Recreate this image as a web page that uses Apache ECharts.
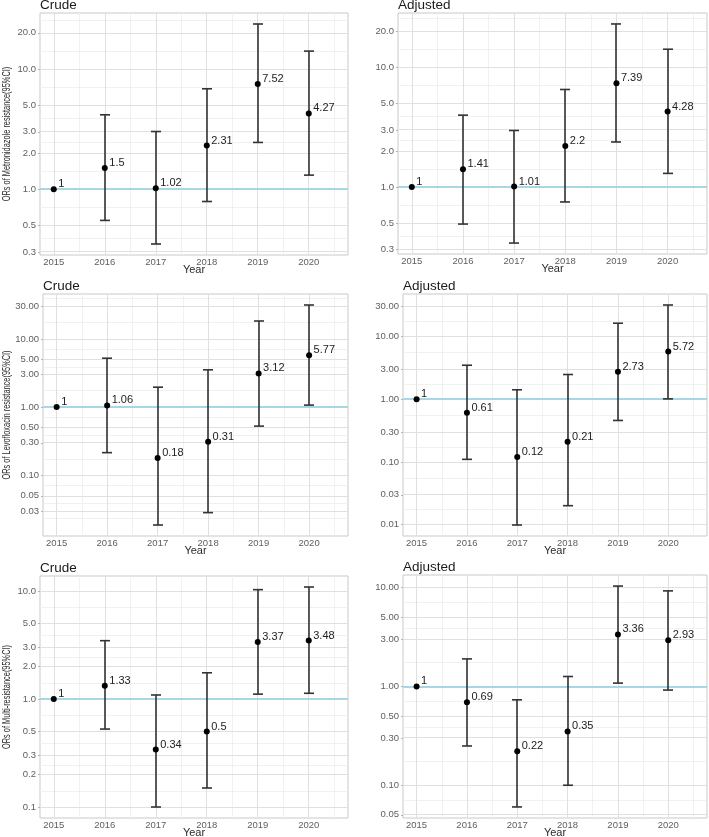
<!DOCTYPE html>
<html>
<head>
<meta charset="utf-8">
<script src="https://cdn.jsdelivr.net/npm/echarts@6/dist/echarts.min.js"></script>
<style>
html,body{margin:0;padding:0;background:#fff;}
#chart{width:709px;height:837px;}
</style>
</head>
<body>
<div id="chart"></div>
<script>
// ---------- data ----------
var years = [2015, 2016, 2017, 2018, 2019, 2020];

var metroCrudeOR   = [1, 1.5, 1.02, 2.31, 7.52, 4.27];
var metroCrudeLow  = [null, 0.55, 0.35, 0.79, 2.45, 1.31];
var metroCrudeHigh = [null, 4.16, 3.02, 6.85, 23.7, 14.1];

var metroAdjOR   = [1, 1.41, 1.01, 2.2, 7.39, 4.28];
var metroAdjLow  = [null, 0.49, 0.34, 0.75, 2.38, 1.30];
var metroAdjHigh = [null, 3.99, 2.97, 6.54, 23.1, 14.2];

var levoCrudeOR   = [1, 1.06, 0.18, 0.31, 3.12, 5.77];
var levoCrudeLow  = [null, 0.215, 0.0187, 0.0284, 0.527, 1.07];
var levoCrudeHigh = [null, 5.21, 1.96, 3.52, 18.3, 31.4];

var levoAdjOR   = [1, 0.61, 0.12, 0.21, 2.73, 5.72];
var levoAdjLow  = [null, 0.11, 0.0099, 0.0201, 0.458, 1.01];
var levoAdjHigh = [null, 3.47, 1.41, 2.47, 16.2, 31.6];

var multiCrudeOR   = [1, 1.33, 0.34, 0.5, 3.37, 3.48];
var multiCrudeLow  = [null, 0.527, 0.10, 0.15, 1.11, 1.13];
var multiCrudeHigh = [null, 3.47, 1.09, 1.75, 10.3, 10.9];

var multiAdjOR   = [1, 0.69, 0.22, 0.35, 3.36, 2.93];
var multiAdjLow  = [null, 0.249, 0.060, 0.0996, 1.08, 0.918];
var multiAdjHigh = [null, 1.90, 0.731, 1.26, 10.4, 9.29];

// tick labels
var metroTicks      = [0.3, 0.5, 1, 2, 3, 5, 10, 20];
var levoCrudeTicks  = [0.03, 0.05, 0.1, 0.3, 0.5, 1, 3, 5, 10, 30];
var levoAdjTicks    = [0.01, 0.03, 0.1, 0.3, 1, 3, 10, 30];
var multiCrudeTicks = [0.1, 0.2, 0.3, 0.5, 1, 2, 3, 5, 10];
var multiAdjTicks   = [0.05, 0.1, 0.3, 0.5, 1, 3, 5, 10];

var panelTitles = ['Crude', 'Adjusted'];
var yTitles = ['ORs of Metronidazole resistance(95%CI)',
               'ORs of Levofloxacin resistance(95%CI)',
               'ORs of Multi-resistance(95%CI)'];
var xTitle = 'Year';

// ---------- layout ----------
var layout = [
  {left: 40,  top: 13,  width: 308, height: 242},
  {left: 398, top: 13,  width: 309, height: 241},
  {left: 43,  top: 294, width: 305, height: 242},
  {left: 403, top: 294, width: 304, height: 242},
  {left: 40,  top: 576, width: 308, height: 242},
  {left: 403, top: 575, width: 304, height: 243}
];

var panels = [
  {or: metroCrudeOR, lo: metroCrudeLow, hi: metroCrudeHigh, ticks: metroTicks, dec: 1, title: panelTitles[0], yTitle: yTitles[0]},
  {or: metroAdjOR,   lo: metroAdjLow,   hi: metroAdjHigh,   ticks: metroTicks, dec: 1, title: panelTitles[1]},
  {or: levoCrudeOR,  lo: levoCrudeLow,  hi: levoCrudeHigh,  ticks: levoCrudeTicks, dec: 2, title: panelTitles[0], yTitle: yTitles[1]},
  {or: levoAdjOR,    lo: levoAdjLow,    hi: levoAdjHigh,    ticks: levoAdjTicks, dec: 2, title: panelTitles[1]},
  {or: multiCrudeOR, lo: multiCrudeLow, hi: multiCrudeHigh, ticks: multiCrudeTicks, dec: 1, title: panelTitles[0], yTitle: yTitles[2]},
  {or: multiAdjOR,   lo: multiAdjLow,   hi: multiAdjHigh,   ticks: multiAdjTicks, dec: 2, title: panelTitles[1]}
];

var X_MIN = 2014.73, X_MAX = 2020.77;
var FONT = 'Liberation Sans, Arial, sans-serif';
var lg = function (v) { return Math.log(v) / Math.LN10; };

var chart = echarts.init(document.getElementById('chart'), null, {renderer: 'canvas'});

var grids = [], xAxes = [], yAxes = [], series = [], graphics = [];

function errRender(params, api) {
  var x = api.value(0), lo = api.value(1), hi = api.value(2);
  var p1 = api.coord([x, lo]), p2 = api.coord([x, hi]);
  var cx = Math.round(p1[0]);
  var w = 5;
  var st = {stroke: '#333333', lineWidth: 1.6, opacity: 1};
  return {type: 'group', children: [
    {type: 'line', shape: {x1: cx, y1: p1[1], x2: cx, y2: p2[1]}, style: st},
    {type: 'line', shape: {x1: cx - w, y1: p1[1], x2: cx + w, y2: p1[1]}, style: st},
    {type: 'line', shape: {x1: cx - w, y1: p2[1], x2: cx + w, y2: p2[1]}, style: st}
  ]};
}

panels.forEach(function (p, i) {
  var L = layout[i];
  grids.push({left: L.left, top: L.top, width: L.width, height: L.height,
    show: true, borderColor: '#c9c9c9', borderWidth: 1, backgroundColor: '#fff', containLabel: false});

  // y-limits, ggplot-like 5% expansion in log space
  var all = [];
  p.or.forEach(function (v) { all.push(lg(v)); });
  p.lo.forEach(function (v) { if (v != null) all.push(lg(v)); });
  p.hi.forEach(function (v) { if (v != null) all.push(lg(v)); });
  var mn = Math.min.apply(null, all), mx = Math.max.apply(null, all);
  var ex = (mx - mn) * 0.05;
  var yMin = mn - ex, yMax = mx + ex;

  var tickLogs = p.ticks.map(lg);
  // minor breaks (midpoints, extended one step each side)
  var b = tickLogs.slice();
  var bd = b[1] - b[0];
  if (yMin < b[0]) b.unshift(b[0] - bd);
  if (yMax > b[b.length - 1]) b.push(b[b.length - 1] + bd);
  var minors = [];
  for (var k = 0; k < b.length - 1; k++) {
    var m = (b[k] + b[k + 1]) / 2;
    if (m > yMin && m < yMax) minors.push(m);
  }

  var dec = p.dec, ticks = p.ticks;
  xAxes.push({type: 'value', gridIndex: i, min: X_MIN, max: X_MAX,
    axisLine: {show: false}, splitLine: {show: false},
    axisTick: {show: true, customValues: years, length: 2, lineStyle: {color: '#b5b5b5'}},
    axisLabel: {show: true, customValues: years, margin: 2, fontSize: 9.5, color: '#5e5e5e', fontFamily: FONT,
      formatter: function (v) { return String(Math.round(v)); }}
  });
  yAxes.push({type: 'value', gridIndex: i, min: yMin, max: yMax,
    axisLine: {show: false}, splitLine: {show: false},
    axisTick: {show: true, customValues: tickLogs, length: 2, lineStyle: {color: '#b5b5b5'}},
    axisLabel: {show: true, customValues: tickLogs, margin: 4, fontSize: 9.5, color: '#5e5e5e', fontFamily: FONT,
      formatter: function (v) {
        var best = 0, bdist = Infinity;
        for (var j = 0; j < ticks.length; j++) {
          var d = Math.abs(lg(ticks[j]) - v);
          if (d < bdist) { bdist = d; best = j; }
        }
        return ticks[best].toFixed(dec);
      }}
  });

  // grid lines
  var gl = [];
  minors.forEach(function (v) { gl.push({yAxis: v, lineStyle: {color: '#eeeeee', width: 0.8, type: 'solid'}}); });
  years.forEach(function (y) { gl.push({xAxis: y - 0.5, lineStyle: {color: '#eeeeee', width: 0.8, type: 'solid'}}); });
  gl.push({xAxis: years[years.length - 1] + 0.5, lineStyle: {color: '#eeeeee', width: 0.8, type: 'solid'}});
  tickLogs.forEach(function (v) { gl.push({yAxis: v, lineStyle: {color: '#e0e0e0', width: 1, type: 'solid'}}); });
  years.forEach(function (y) { gl.push({xAxis: y, lineStyle: {color: '#e0e0e0', width: 1, type: 'solid'}}); });
  gl = gl.filter(function (d) {
    if (d.xAxis != null) return d.xAxis > X_MIN && d.xAxis < X_MAX;
    return true;
  });

  series.push({type: 'line', xAxisIndex: i, yAxisIndex: i, data: [], z: 1, silent: true, animation: false,
    markLine: {z: 1, silent: true, symbol: ['none', 'none'], label: {show: false}, animation: false, data: gl}});
  series.push({type: 'line', xAxisIndex: i, yAxisIndex: i, data: [], z: 2, silent: true, animation: false,
    markLine: {z: 2, silent: true, symbol: ['none', 'none'], label: {show: false}, animation: false,
      data: [{yAxis: 0, lineStyle: {color: '#a9d6e5', width: 1.8, type: 'solid'}}]}});

  var errData = [];
  years.forEach(function (y, j) {
    if (p.lo[j] != null) errData.push([y, lg(p.lo[j]), lg(p.hi[j])]);
  });
  series.push({type: 'custom', xAxisIndex: i, yAxisIndex: i, renderItem: errRender, data: errData,
    encode: {x: 0, y: [1, 2]}, z: 6, silent: true, animation: false, clip: false});

  var ptData = years.map(function (y, j) { return [y, lg(p.or[j]), p.or[j]]; });
  series.push({type: 'scatter', xAxisIndex: i, yAxisIndex: i, data: ptData, z: 7, symbol: 'circle', symbolSize: 6,
    itemStyle: {color: '#000000', borderWidth: 0, opacity: 1}, silent: true, animation: false,
    emphasis: {disabled: true},
    label: {show: true, position: 'right', distance: 1.5, offset: [0, -5], fontSize: 11, color: '#222', fontFamily: FONT,
      formatter: function (q) { return String(q.data[2]); }}});

  // titles
  graphics.push({type: 'text', x: L.left, y: L.top - 7.5,
    style: {text: p.title, fontSize: 13.5, fill: '#1a1a1a', fontFamily: FONT, align: 'left', verticalAlign: 'middle'}});
  graphics.push({type: 'text', x: L.left + L.width / 2, y: L.top + L.height + 15,
    style: {text: xTitle, fontSize: 11, fill: '#2b2b2b', fontFamily: FONT, align: 'center', verticalAlign: 'middle'}});
  if (p.yTitle) {
    graphics.push({type: 'text', x: 7, y: L.top + L.height / 2, rotation: Math.PI / 2, scaleX: 0.74,
      style: {text: p.yTitle, fontSize: 10, fill: '#2b2b2b', fontFamily: FONT, align: 'center', verticalAlign: 'middle'}});
  }
});

chart.setOption({
  animation: false,
  backgroundColor: '#ffffff',
  grid: grids,
  xAxis: xAxes,
  yAxis: yAxes,
  series: series,
  graphic: graphics
});
</script>
</body>
</html>
